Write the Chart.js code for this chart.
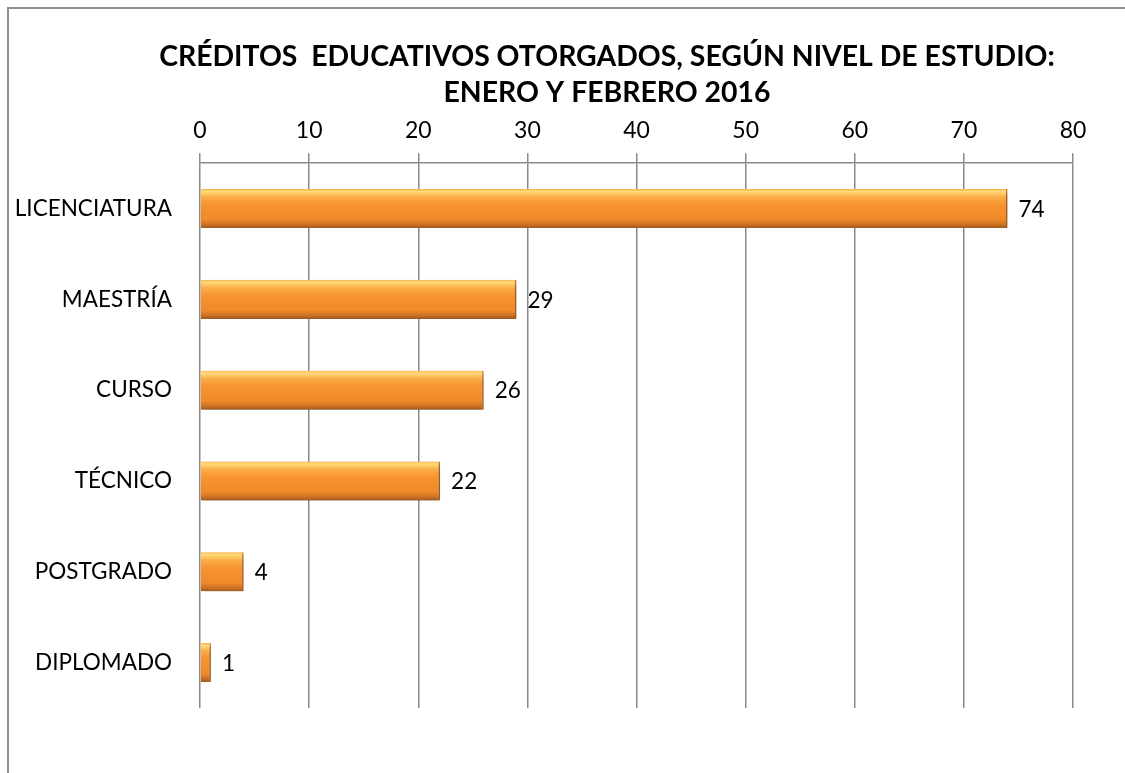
<!DOCTYPE html>
<html>
<head>
<meta charset="utf-8">
<script src="https://cdn.jsdelivr.net/npm/chart.js@4"></script>
<style>
  html, body { margin: 0; padding: 0; background: #fff; overflow: hidden; }
  #frame { position: absolute; left: 7px; top: 7px; width: 1196px; height: 800px;
           border-left: 2px solid #8f8f8f; border-top: 2px solid #8f8f8f; }
  #wrap { position: absolute; left: 0; top: 0; width: 1196px; height: 780px; }
</style>
</head>
<body>
<div id="frame"><div id="wrap"><canvas id="c" width="1196" height="780"></canvas></div></div>
<script>
const categories = ["LICENCIATURA", "MAESTRÍA", "CURSO", "TÉCNICO", "POSTGRADO", "DIPLOMADO"];
const values = [74, 29, 26, 22, 4, 1];
const xTicks = [0, 10, 20, 30, 40, 50, 60, 70, 80];
const titleLines = ["CRÉDITOS  EDUCATIVOS OTORGADOS, SEGÚN NIVEL DE ESTUDIO:", "ENERO Y FEBRERO 2016"];

const BAR_PCT = 0.43;
const FONT = "Lato, 'Open Sans', sans-serif";

// centre the title over the whole (wide) chart object, like the original
const titleSpan = {
  id: 'titleSpan',
  afterLayout(chart) {
    if (chart.titleBlock) {
      chart.titleBlock.left = 0;
      chart.titleBlock.right = chart.width;
      chart.titleBlock.width = chart.width;
    }
  }
};

const shadowPlugin = {
  id: 'barShadow',
  beforeDatasetDraw(chart) {
    const ctx = chart.ctx;
    ctx.save();
    ctx.shadowColor = 'rgba(0,0,0,0.35)';
    ctx.shadowBlur = 6;
    ctx.shadowOffsetX = 2;
    ctx.shadowOffsetY = 4;
  },
  afterDatasetDraw(chart) { chart.ctx.restore(); }
};

const valueLabels = {
  id: 'valueLabels',
  afterDatasetsDraw(chart) {
    const ctx = chart.ctx;
    const meta = chart.getDatasetMeta(0);
    ctx.save();
    ctx.font = "22.5px " + FONT;
    ctx.fillStyle = '#000';
    ctx.textAlign = 'left';
    ctx.textBaseline = 'middle';
    meta.data.forEach((el, i) => {
      ctx.fillText(String(values[i]), el.x + 11, el.y + 1);
    });
    ctx.restore();
  }
};

function barGradient(context) {
  const chart = context.chart;
  const ca = chart.chartArea;
  const ys = chart.scales.y;
  if (!ca || !ys) return '#F7912E';
  const band = (ca.bottom - ca.top) / categories.length;
  const h = band * BAR_PCT;
  const cy = ys.getPixelForValue(context.dataIndex);
  const g = chart.ctx.createLinearGradient(0, cy - h / 2, 0, cy + h / 2);
  g.addColorStop(0, '#F9B04A');
  g.addColorStop(0.06, '#FFDC7A');
  g.addColorStop(0.2, '#FBAE47');
  g.addColorStop(0.42, '#F7922E');
  g.addColorStop(0.78, '#F08A2A');
  g.addColorStop(0.92, '#C96F23');
  g.addColorStop(1, '#9A581F');
  return g;
}

new Chart(document.getElementById('c'), {
  type: 'bar',
  data: {
    labels: categories,
    datasets: [{
      data: values,
      backgroundColor: barGradient,
      borderColor: '#D0772A',
      borderWidth: { top: 0, bottom: 0, left: 0, right: 1.5 },
      borderSkipped: false,
      categoryPercentage: 1,
      barPercentage: BAR_PCT
    }]
  },
  plugins: [titleSpan, shadowPlugin, valueLabels],
  options: {
    indexAxis: 'y',
    responsive: false,
    animation: false,
    devicePixelRatio: 1,
    layout: { padding: { left: 0, right: 132, top: 0, bottom: 81 } },
    plugins: {
      legend: { display: false },
      tooltip: { enabled: false },
      title: {
        display: true,
        text: titleLines,
        color: '#000',
        font: { family: FONT, size: 28.4, weight: 'bold', lineHeight: 1.27 },
        padding: { top: 30, bottom: 0 }
      }
    },
    scales: {
      x: {
        position: 'top',
        min: 0, max: 80,
        afterBuildTicks(scale) { scale.ticks = xTicks.map(v => ({ value: v })); },
        afterFit(scale) { scale.height = 154 - 102; },
        ticks: { color: '#000', font: { family: FONT, size: 23 }, padding: 9, maxRotation: 0 },
        grid: { color: '#8a8a8a', lineWidth: 1.5, drawTicks: true, tickLength: 10 },
        border: { display: true, color: '#8a8a8a', width: 1.5 }
      },
      y: {
        afterFit(scale) { scale.width = 191; },
        ticks: { color: '#000', font: { family: FONT, size: 22.5 }, padding: 28 },
        grid: { display: false, drawTicks: false },
        border: { display: false }
      }
    }
  }
});
</script>
</body>
</html>
